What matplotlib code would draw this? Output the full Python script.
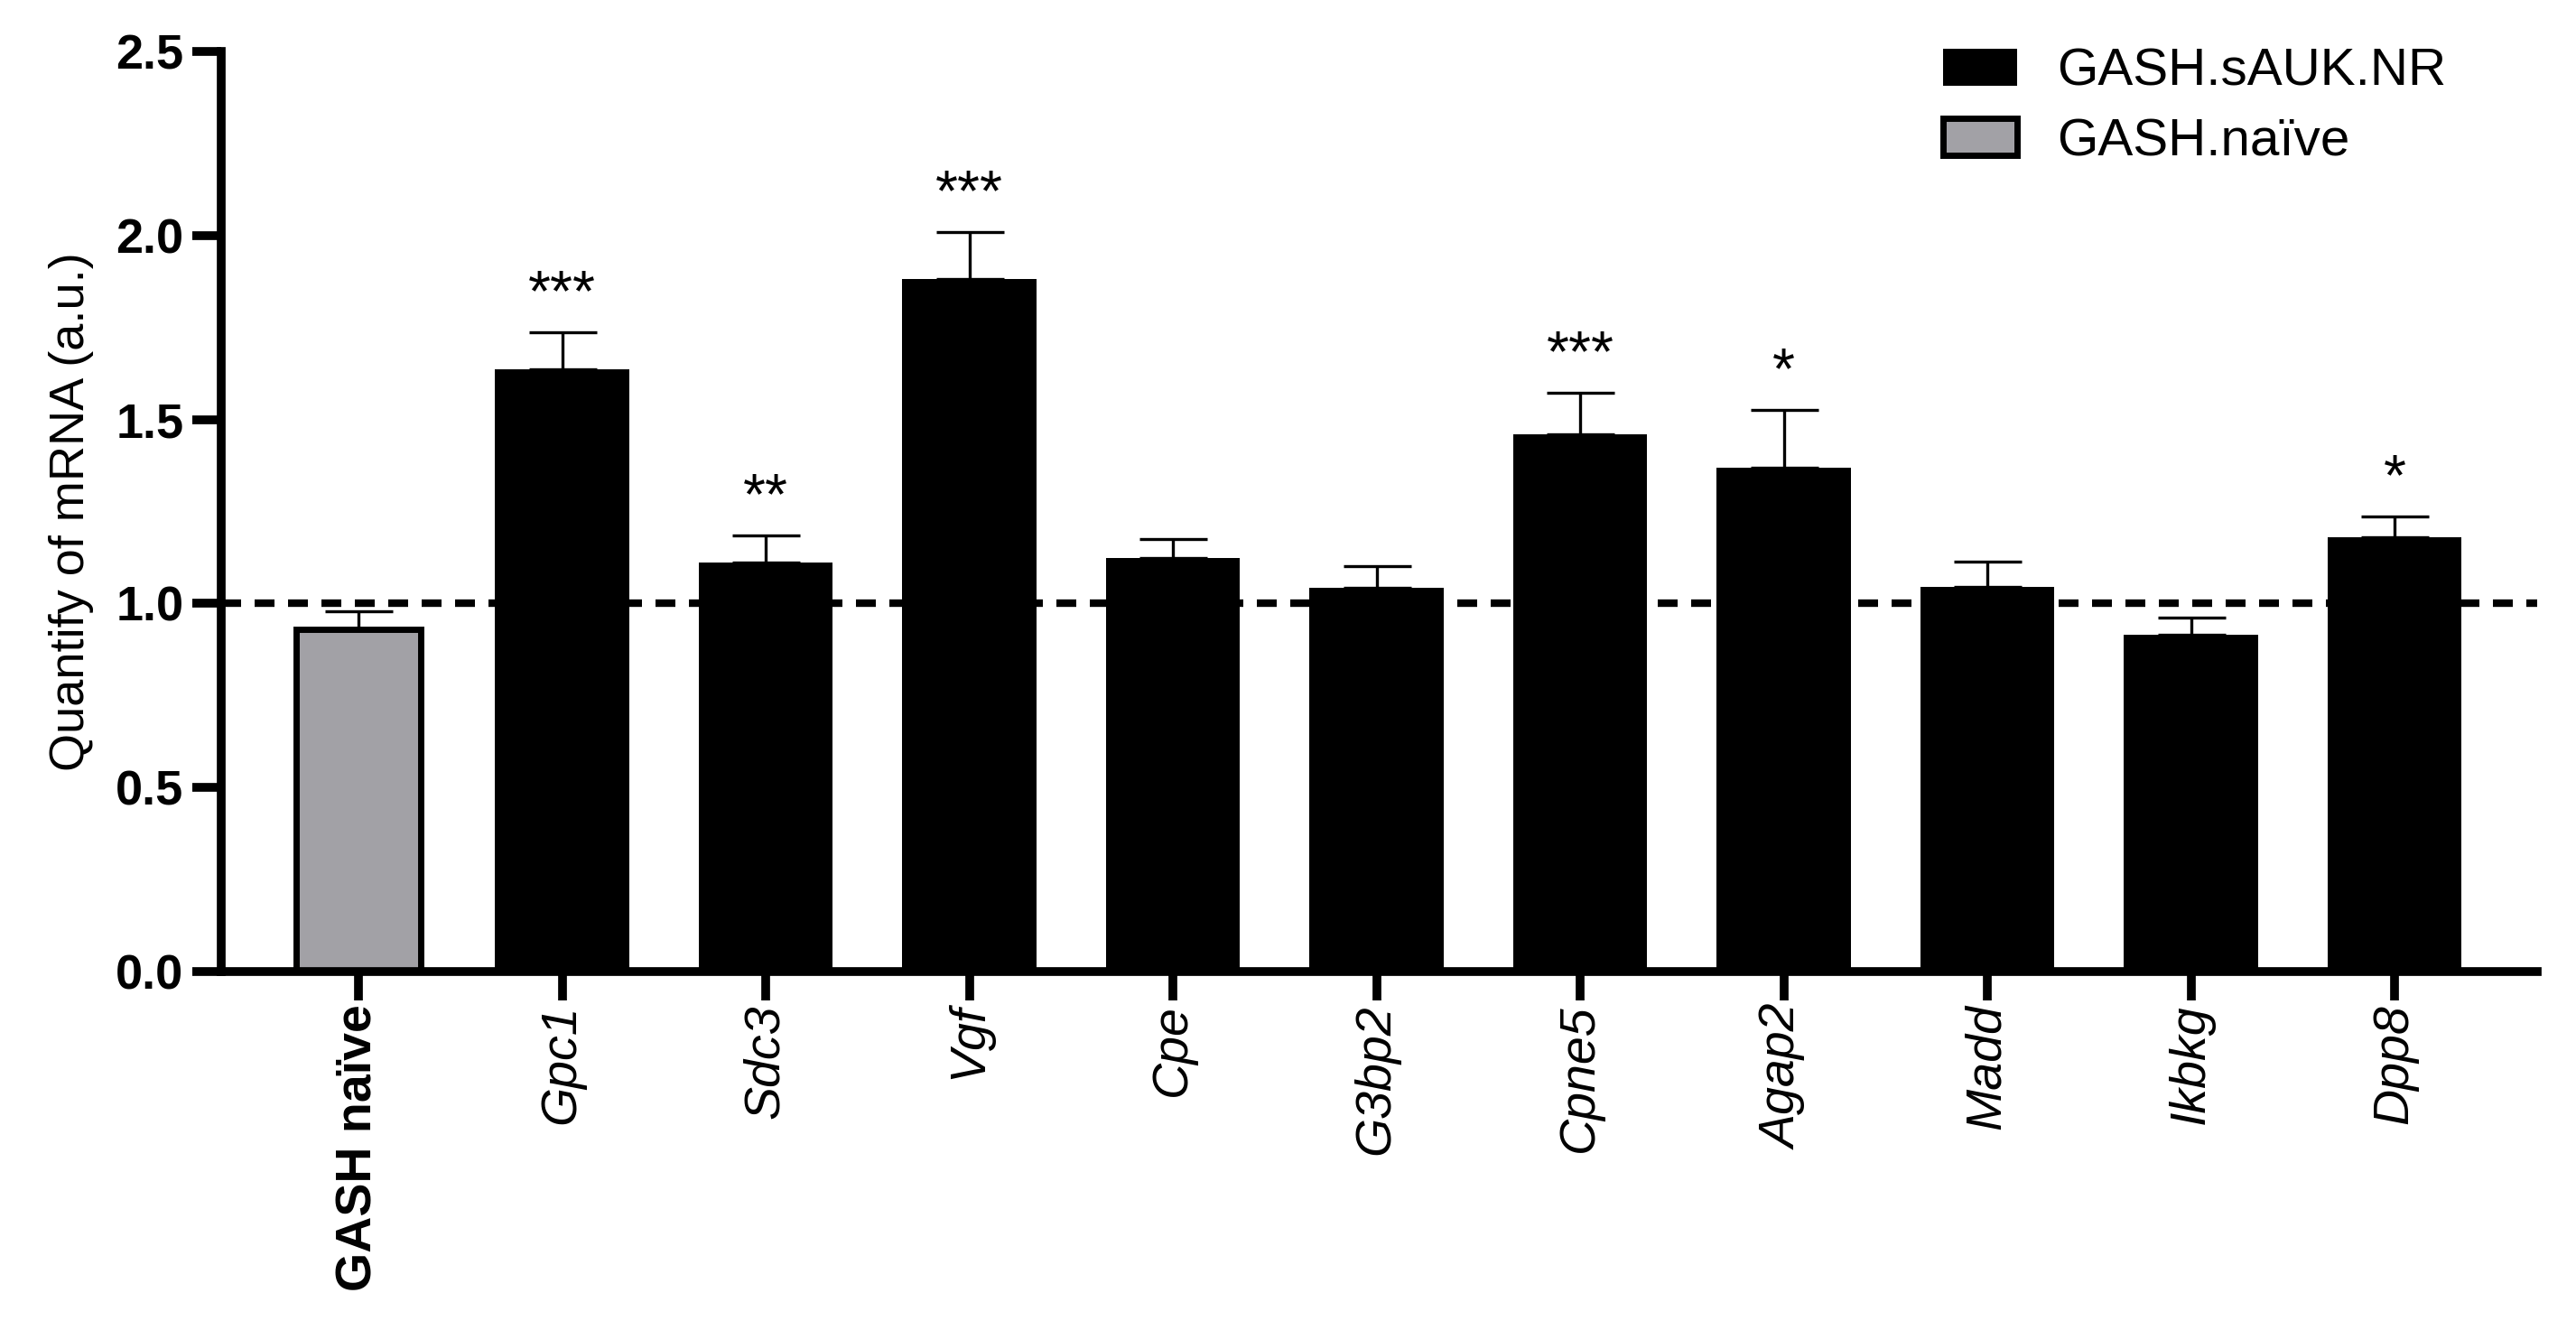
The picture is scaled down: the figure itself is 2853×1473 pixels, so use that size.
import numpy as np
import matplotlib
matplotlib.use("Agg")
import matplotlib.pyplot as plt
from matplotlib.patches import Patch

plt.rcParams['font.family'] = ['Liberation Sans', 'DejaVu Sans']

# data
genes = ['GASH naïve', 'Gpc1', 'Sdc3', 'Vgf', 'Cpe', 'G3bp2', 'Cpne5',
         'Agap2', 'Madd', 'Ikbkg', 'Dpp8']
means = [0.93, 1.636, 1.112, 1.881, 1.124, 1.043, 1.460, 1.369, 1.046, 0.916, 1.180]
sem = [0.05, 0.10, 0.074, 0.129, 0.05, 0.058, 0.112, 0.157, 0.069, 0.046, 0.057]
stars = ['', '***', '**', '***', '', '', '***', '*', '', '', '*']
legend_labels = ['GASH.sAUK.NR', 'GASH.naïve']

naive_color = '#a2a1a6'

fig = plt.figure(figsize=(28.53, 14.73), dpi=100)
ax = fig.add_axes([0.0859, 0.2695, 0.899, 0.6918])

x = np.arange(len(genes))
colors = [naive_color] + ['black'] * (len(genes) - 1)
widths = [0.615] + [0.66] * (len(genes) - 1)
lws = [5.0] + [0] * (len(genes) - 1)
ax.bar(x, means, width=widths, color=colors, edgecolor='black', linewidth=lws, zorder=2)

# upper error bars only
ax.errorbar(x, means, yerr=[np.zeros(len(sem)), sem], fmt='none', ecolor='black',
            elinewidth=2.4, capsize=27, capthick=2.4, zorder=3)

# reference line at 1.0
ref = ax.axhline(1.0, color='black', linewidth=6, zorder=4)
ref.set_dashes((2.64, 1.8))

for xi, m, s, st in zip(x, means, sem, stars):
    if st:
        ax.text(xi, m + s + 0.10, st, ha='center', va='center', fontsize=46, zorder=5)

ax.set_xlim(-0.674, 10.70)
ax.set_ylim(0, 2.5)
ax.set_yticks([0.0, 0.5, 1.0, 1.5, 2.0, 2.5])
ax.set_yticklabels(['0.0', '0.5', '1.0', '1.5', '2.0', '2.5'], fontsize=39, fontweight='bold')

ax.set_xticks(x)
ax.set_xticklabels(genes, rotation=90, fontsize=40, ha='center', va='top')
for i, lbl in enumerate(ax.get_xticklabels()):
    if i == 0:
        lbl.set_fontweight('bold')
    else:
        lbl.set_fontstyle('italic')

for side in ['top', 'right']:
    ax.spines[side].set_visible(False)
for side in ['left', 'bottom']:
    ax.spines[side].set_linewidth(7)
ax.tick_params(axis='y', length=23, width=7, pad=7)
ax.tick_params(axis='x', length=23, width=7, pad=3)

ax.set_ylabel('Quantify of mRNA (a.u.)', fontsize=39)
ax.yaxis.set_label_coords(-0.055, 0.5)

handles = [Patch(facecolor='black', edgecolor='black', linewidth=0),
           Patch(facecolor=naive_color, edgecolor='black', linewidth=5)]
fig.legend(handles, legend_labels, loc='upper left', bbox_to_anchor=(0.744, 0.984),
           frameon=False, fontsize=42, handlelength=1.41, handleheight=0.69,
           handletextpad=0.75, labelspacing=0.4, borderpad=0)

fig.savefig('out.png', dpi=100)
